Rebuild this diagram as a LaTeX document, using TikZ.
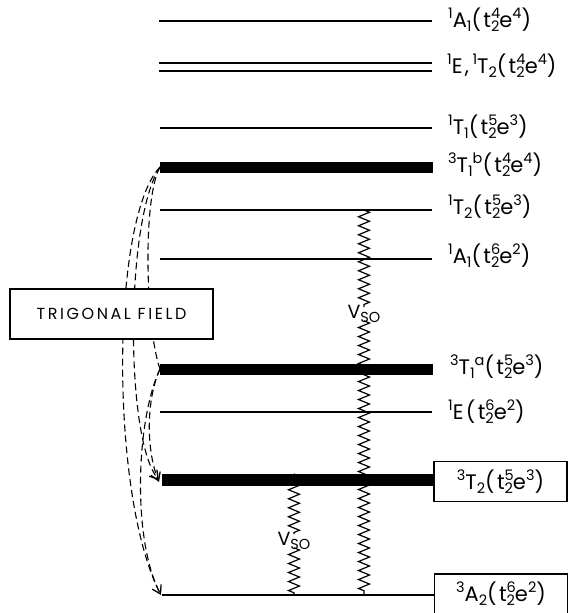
\documentclass[tikz,border=0pt]{standalone}
\usepackage{fontspec}
\setmainfont{Poppins}
\newfontfamily\labfont[LetterSpace=11]{Poppins}
\newfontfamily\trigfont[LetterSpace=16]{Poppins}
\usetikzlibrary{arrows.meta,decorations.pathmorphing}
\newcommand\lvs{\fontsize{14.5}{16}\selectfont}
\newcommand\lvup[1]{\raisebox{0.42em}{\lvs #1}}
\newcommand\lvdn[1]{\raisebox{-0.2em}{\lvs #1}}
\newcommand\lvud[2]{\raisebox{0.42em}{\rlap{\lvs #1}}\raisebox{-0.2em}{\lvs #2}}
\begin{document}
\begin{tikzpicture}[x=1pt,y=-1pt,
  thinlvl/.style={line width=1.8pt},
  thicklvl/.style={line width=11pt},
  lab/.style={anchor=west,inner sep=0pt,font=\labfont\fontsize{21}{25}\selectfont},
  tf/.style={dash pattern=on 7pt off 4pt,line width=1.1pt},
  tip/.style={-{Straight Barb[length=8pt,width=10pt,line width=1.3pt]}},
  zz/.style={decorate,decoration={zigzag,segment length=9pt,amplitude=5.5pt},line width=1.2pt},
  bx/.style={draw,line width=1.2pt,minimum width=133pt,minimum height=40pt,inner sep=0pt,font=\labfont\fontsize{21}{25}\selectfont},
  vso/.style={inner sep=0pt,font=\fontsize{19}{22}\selectfont}]
\useasboundingbox (0,0) rectangle (578,613);
% level coordinates
\coordinate (AtL) at (159,21);  \coordinate (AtR) at (432,21);
\coordinate (EaL) at (159,63);  \coordinate (EaR) at (432,63);
\coordinate (EbL) at (159,71);  \coordinate (EbR) at (432,71);
\coordinate (TsL) at (160,128); \coordinate (TsR) at (432,128);
\coordinate (TbL) at (160,167); \coordinate (TbR) at (433,167);
\coordinate (TtL) at (160,210); \coordinate (TtR) at (432,210);
\coordinate (AsL) at (160,259); \coordinate (AsR) at (432,259);
\coordinate (TaL) at (160,369); \coordinate (TaR) at (433,369);
\coordinate (EsL) at (160,412); \coordinate (EsR) at (432,412);
\coordinate (TwL) at (162,480);
\coordinate (AwL) at (162,595);
% boxed labels
\node[bx] (bT2) at (500.5,481.5) {\lvup{3}T\lvdn{2}(t\lvud{5}{2}e\lvup{3})};
\node[bx] (bA2) at (501,594) {\lvup{3}A\lvdn{2}(t\lvud{6}{2}e\lvup{2})};
% levels
\draw[thinlvl] (AtL) -- (AtR);
\draw[thinlvl] (EaL) -- (EaR);
\draw[thinlvl] (EbL) -- (EbR);
\draw[thinlvl] (TsL) -- (TsR);
\draw[thicklvl] (TbL) -- (TbR);
\draw[thinlvl] (TtL) -- (TtR);
\draw[thinlvl] (AsL) -- (AsR);
\draw[thicklvl] (TaL) -- (TaR);
\draw[thinlvl] (EsL) -- (EsR);
\draw[line width=12pt] (TwL) -- (TwL -| bT2.west);
\draw[thinlvl] (AwL) -- (AwL -| bA2.west);
% labels
\node[lab] (lA) at (448,20) {\lvup{1}A\lvdn{1}(t\lvud{4}{2}e\lvup{4})};
\node[lab] (lE) at (447,66) {\lvup{1}E,\,\lvup{1}T\lvdn{2}(t\lvud{4}{2}e\lvup{4})};
\node[lab] (lTs) at (448,127) {\lvup{1}T\lvdn{1}(t\lvud{5}{2}e\lvup{3})};
\node[lab] (lTb) at (448,165) {\lvup{3}T\lvdn{1}\lvup{b}(t\lvud{4}{2}e\lvup{4})};
\node[lab] (lTt) at (448,207) {\lvup{1}T\lvdn{2}(t\lvud{5}{2}e\lvup{3})};
\node[lab] (lAs) at (448,256) {\lvup{1}A\lvdn{1}(t\lvud{6}{2}e\lvup{2})};
\node[lab] (lTa) at (450,367) {\lvup{3}T\lvdn{1}\lvup{a}(t\lvud{5}{2}e\lvup{3})};
\node[lab] (lEs) at (448,412) {\lvup{1}E(t\lvud{6}{2}e\lvup{2})};
% trigonal field dashed arrows
\draw[tf] (TbL) .. controls (110,220) and (110,500) .. ([xshift=-1pt]AwL);
\draw[tf,tip] (TbL) .. controls (125,220) and (125,440) .. ([xshift=-3pt]TwL);
\draw[tf] (TbL) .. controls (142,200) and (146,330) .. (TaL);
\draw[tf,tip] (TaL) .. controls (146,400) and (146,450) .. ([xshift=-3pt,yshift=-2pt]TwL);
\draw[tf,tip] (TaL) .. controls (136,420) and (132,540) .. ([xshift=-1pt]AwL);
\node[draw,fill=white,line width=1.2pt,minimum width=203pt,minimum height=50pt,inner sep=0pt,font=\trigfont\fontsize{16}{19}\selectfont] (trig) at (111.5,314) {TRIGONAL\ FIELD};
% spin-orbit
\node[vso] (v1) at (364,314) {V\lvdn{SO}};
\node[vso] (v2) at (294,541) {V\lvdn{SO}};
\draw[zz] (v1 |- TtL) -- ([yshift=-2pt]v1.north);
\draw[zz] ([yshift=2pt]v1.south) -- (v1 |- AwL);
\draw[zz] ([yshift=6pt]v2 |- TwL) -- ([yshift=-2pt]v2.north);
\draw[zz] ([yshift=2pt]v2.south) -- (v2 |- AwL);
\end{tikzpicture}
\end{document}
